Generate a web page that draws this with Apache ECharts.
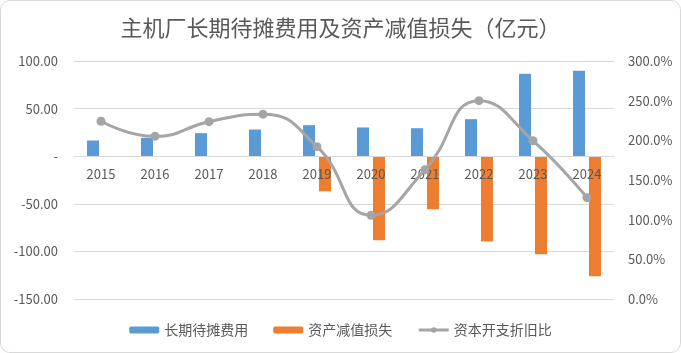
<!DOCTYPE html>
<html>
<head>
<meta charset="utf-8">
<script src="https://cdn.jsdelivr.net/npm/echarts@6/dist/echarts.min.js"></script>
<style>
html,body{margin:0;padding:0;background:#fff;}
#wrap{width:681px;height:353px;box-sizing:border-box;border:1px solid #d9d9d9;border-radius:10px;overflow:hidden;position:relative;}
#chart{position:absolute;left:-1px;top:-1px;width:681px;height:353px;}
</style>
</head>
<body>
<div id="wrap"><div id="chart"></div></div>
<script>
const categories = ['2015','2016','2017','2018','2019','2020','2021','2022','2023','2024'];
const amortization = [16.5, 19.3, 24.2, 28.0, 32.6, 30.2, 29.4, 38.9, 86.6, 89.7];
const impairment = [null, null, null, null, -36.8, -88.3, -55.7, -89.7, -103.0, -126.0];
const capexRatio = [224.0, 205.0, 223.5, 233.0, 192.0, 105.5, 163.0, 250.0, 199.5, 127.7];
const seriesNames = ['长期待摊费用', '资产减值损失', '资本开支折旧比'];
const leftMin = -150, leftMax = 100;

const font = '"Noto Sans CJK SC", "Noto Sans", sans-serif';
const grid = { left: 74, right: 67, top: 61, bottom: 54 };
const plotH = 353 - grid.top - grid.bottom;
// place category axis at value 0 of left axis
const zeroOffset = -((0 - leftMin) / (leftMax - leftMin)) * plotH;

const chart = echarts.init(document.getElementById('chart'));
chart.setOption({
  animation: false,
  textStyle: { fontFamily: font },
  title: {
    text: '主机厂长期待摊费用及资产减值损失（亿元）',
    left: 'center', top: 12,
    textStyle: { fontSize: 22, fontWeight: 'normal', color: '#595959', fontFamily: font }
  },
  legend: {
    bottom: 11, left: 'center',
    itemWidth: 30, itemHeight: 7, itemGap: 25,
    textStyle: { fontSize: 14, color: '#595959', fontFamily: font },
    data: [
      { name: seriesNames[0] },
      { name: seriesNames[1] },
      { name: seriesNames[2], lineStyle: { width: 3 } }
    ]
  },
  grid: grid,
  xAxis: {
    type: 'category', data: categories,
    offset: zeroOffset, z: 3,
    axisLine: { onZero: false, lineStyle: { color: '#d9d9d9', width: 1 } },
    axisTick: { show: false },
    axisLabel: { color: '#595959', fontSize: 13, margin: 11 }
  },
  yAxis: [
    {
      type: 'value', min: leftMin, max: leftMax, interval: 50,
      axisLine: { show: false }, axisTick: { show: false },
      splitLine: { lineStyle: { color: '#d9d9d9', width: 1 } },
      axisLabel: { color: '#595959', fontSize: 13, margin: 16,
        formatter: v => v === 0 ? '-' : v.toFixed(2) }
    },
    {
      type: 'value', min: 0, max: 300, interval: 50,
      axisLine: { show: false }, axisTick: { show: false },
      splitLine: { show: false },
      axisLabel: { color: '#595959', fontSize: 13, margin: 14,
        formatter: v => v.toFixed(1) + '%' }
    }
  ],
  series: [
    { name: seriesNames[0], type: 'bar', data: amortization, barWidth: 12, barGap: '33%',
      itemStyle: { color: '#5B9BD5' } },
    { name: seriesNames[1], type: 'bar', data: impairment, barWidth: 12, barGap: '33%',
      itemStyle: { color: '#ED7D31' } },
    { name: seriesNames[2], type: 'line', yAxisIndex: 1, data: capexRatio, smooth: 0.5,
      symbol: 'circle', symbolSize: 9, z: 4,
      lineStyle: { color: '#A5A5A5', width: 3 },
      itemStyle: { color: '#A5A5A5' } }
  ]
});
</script>
</body>
</html>
